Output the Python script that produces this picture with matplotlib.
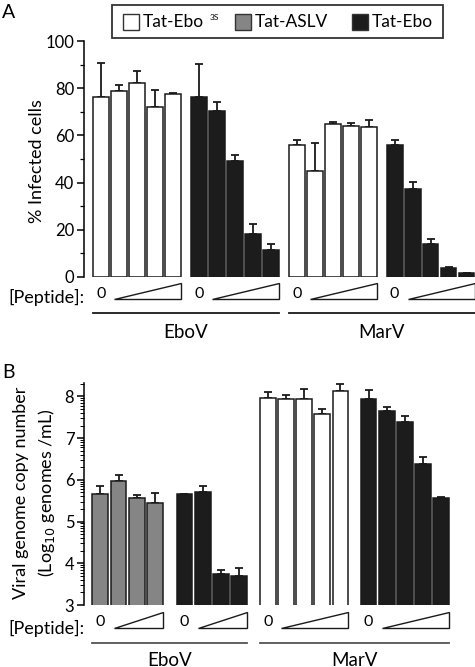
import matplotlib.pyplot as plt
import numpy as np
from matplotlib.patches import Rectangle, Polygon
from matplotlib.text import Annotation
from matplotlib.ticker import MultipleLocator, FixedLocator
from matplotlib.transforms import blended_transform_factory

plt.rcParams['font.family'] = ['Lato', 'DejaVu Sans']

W, H = 475, 667

# colours per peptide
colors = {'Tat-Ebo3S': 'white', 'Tat-ASLV': '#858585', 'Tat-Ebo': '#1c1c1c'}

# panel A: % infected cells
a_viruses = ['EboV', 'MarV']
a_peptides = ['Tat-Ebo3S', 'Tat-Ebo', 'Tat-Ebo3S', 'Tat-Ebo']
a_vals = [[76.4, 78.8, 82.3, 71.9, 77.5],
          [76.2, 70.3, 49.2, 18.4, 11.3],
          [55.8, 45.0, 64.7, 64.1, 63.7],
          [55.8, 37.3, 14.0, 3.7, 1.5]]
a_errs = [[14.1, 2.4, 5.1, 7.2, 0.6],
          [14.0, 3.7, 2.4, 3.9, 2.7],
          [2.2, 11.6, 1.1, 1.3, 2.7],
          [2.2, 3.1, 2.2, 0.6, 0.3]]

# panel B: viral genome copy number (log10 genomes/mL)
b_viruses = ['EboV', 'MarV']
b_peptides = ['Tat-ASLV', 'Tat-Ebo', 'Tat-Ebo3S', 'Tat-Ebo']
b_vals = [[5.65, 5.98, 5.56, 5.44],
          [5.67, 5.71, 3.74, 3.69],
          [7.95, 7.93, 7.93, 7.57, 8.12],
          [7.94, 7.65, 7.39, 6.39, 5.57]]
b_errs = [[0.19, 0.14, 0.08, 0.24],
          [0.0, 0.14, 0.09, 0.19],
          [0.15, 0.11, 0.25, 0.12, 0.17],
          [0.21, 0.10, 0.13, 0.15, 0.02]]


def fx(px):
    return px / W


def fy(py):
    return 1 - py / H


def draw_panel(ax, starts, vals, errs, peptides, width):
    for s, v, e, p in zip(starts, vals, errs, peptides):
        x = s + np.arange(len(v))
        ax.errorbar(x, v, yerr=[np.zeros(len(e)), e], fmt='none', ecolor='#1a1a1a',
                    elinewidth=1.3, capsize=3.2, capthick=1.3, zorder=1)
        ax.bar(x, v, width=width, color=colors[p], edgecolor='#1a1a1a', linewidth=1.1, zorder=2)
    for sp in ['top', 'right', 'bottom']:
        ax.spines[sp].set_visible(False)
    ax.spines['left'].set_linewidth(1.1)
    ax.set_xticks([])
    ax.tick_params(axis='y', which='major', length=5, width=1.1, labelsize=12, pad=2)
    ax.tick_params(axis='y', which='minor', length=3, width=0.9)


def peptide_row(fig, ax, starts, vals, y0, y1, ynum, yline, hw, viruses, yvir, line_color):
    tr = blended_transform_factory(ax.transData, fig.transFigure)
    for s, v in zip(starts, vals):
        n = len(v)
        fig.text(s, fy(ynum), '0', transform=tr, ha='center', va='center', fontsize=11.5)
        tri = Polygon([[s + 0.75, fy(y1)], [s + n - 1 + hw, fy(y1)], [s + n - 1 + hw, fy(y0)]],
                      closed=True, facecolor='white', edgecolor='#1a1a1a', linewidth=1.0,
                      transform=tr, clip_on=False)
        fig.add_artist(tri)
    for k, name in enumerate(viruses):
        left = starts[2 * k] - hw
        right = starts[2 * k + 1] + len(vals[2 * k + 1]) - 1 + hw
        fig.add_artist(plt.Line2D([left, right], [fy(yline), fy(yline)], transform=tr,
                                  color=line_color, linewidth=1.3, clip_on=False))
        fig.text((left + right) / 2, fy(yvir), name, transform=tr, ha='center', va='center',
                 fontsize=13.5)


fig = plt.figure(figsize=(W / 100, H / 100), dpi=100)

# ---- panel A ----
axA = fig.add_axes([fx(84), fy(277), fx(391), 236 / H])
startsA = [0, 5.44, 10.89, 16.33]
draw_panel(axA, startsA, a_vals, a_errs, a_peptides, 0.88)
axA.set_xlim(-0.94, 20.8)
axA.set_ylim(0, 100)
axA.yaxis.set_major_locator(MultipleLocator(20))
axA.yaxis.set_minor_locator(MultipleLocator(10))
fig.text(fx(37), fy(161), '% Infected cells', rotation=90, ha='center', va='center', fontsize=13)
fig.text(fx(84), fy(297), '[Peptide]:', ha='right', va='center', fontsize=13)
peptide_row(fig, axA, startsA, a_vals, 283, 299, 294, 313, 0.45, a_viruses, 332, '#1a1a1a')

# ---- panel B ----
axB = fig.add_axes([fx(84), fy(605), fx(378), 222 / H])
startsB = [0, 4.63, 9.21, 14.76]
draw_panel(axB, startsB, b_vals, b_errs, b_peptides, 0.87)
axB.set_xlim(-0.9, 19.9)
axB.set_ylim(3, 8.32)
axB.yaxis.set_major_locator(MultipleLocator(1))
minor = [n + np.log10(k) for n in range(3, 9) for k in range(2, 10) if n + np.log10(k) <= 8.32]
axB.yaxis.set_minor_locator(FixedLocator(minor))
axB.tick_params(axis='y', which='minor', length=3, width=0.7)
fig.text(fx(21), fy(493), 'Viral genome copy number', rotation=90, ha='center', va='center',
         fontsize=13)
fig.text(fx(47), fy(493), '(Log$_{10}$ genomes /mL)', rotation=90, ha='center', va='center',
         fontsize=13)
fig.text(fx(84), fy(628), '[Peptide]:', ha='right', va='center', fontsize=13)
peptide_row(fig, axB, startsB, b_vals, 612, 628, 622, 643, 0.44, b_viruses, 660, '#555555')

# panel letters
fig.text(fx(2), fy(13), 'A', ha='left', va='center', fontsize=14)
fig.text(fx(2), fy(373), 'B', ha='left', va='center', fontsize=14)

# legend box
fig.add_artist(Rectangle((fx(112), fy(38)), fx(331), 33 / H, facecolor='white',
                         edgecolor='#333333', linewidth=1.3, transform=fig.transFigure))
leg_items = [('Tat-Ebo', 'Tat-Ebo3S', 123), ('Tat-ASLV', 'Tat-ASLV', 235),
             ('Tat-Ebo', 'Tat-Ebo', 352)]
leg_texts = []
for label, key, px in leg_items:
    fig.add_artist(Rectangle((fx(px), fy(30)), fx(16), 16 / H, facecolor=colors[key],
                             edgecolor='#333333', linewidth=1.0, transform=fig.transFigure))
    leg_texts.append(fig.text(fx(px + 20), fy(22), label, ha='left', va='center', fontsize=12.5))
sup = Annotation('3S', xy=(1, 0.75), xycoords=leg_texts[0], xytext=(4, 0),
                 textcoords='offset points', ha='left', va='center', fontsize=6,
                 annotation_clip=False)
sup.set_zorder(5)
fig.add_artist(sup)

fig.savefig('out.png', dpi=100)
